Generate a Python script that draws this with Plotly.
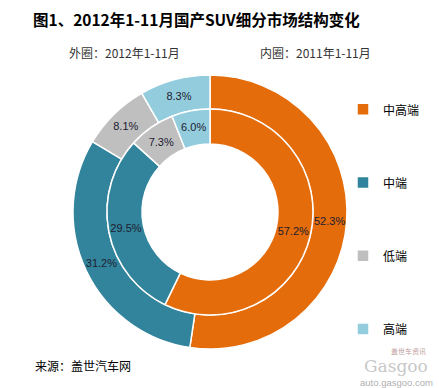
import plotly.graph_objects as go

categories = ["中高端", "中端", "低端", "高端"]
outer_2012 = [52.3, 31.2, 8.1, 8.3]
inner_2011 = [57.2, 29.5, 7.3, 6.0]
colors = ["#E46C0A", "#31849B", "#BFBFBF", "#93CDDD"]

title_text = "图1、2012年1-11月国产SUV细分市场结构变化"
outer_note = "外圈：2012年1-11月"
inner_note = "内圈：2011年1-11月"
source_note = "来源：盖世汽车网"

W, H = 439, 388
cx, cy = 210, 212
R_out, R_mid, R_in = 137, 103, 68

def dom(r):
    return dict(x=[(cx - r) / W, (cx + r) / W],
                y=[(H - cy - r) / H, (H - cy + r) / H])

# legend labels padded with blank lines to spread entries vertically (last one unpadded)
legend_labels = []
for i, c in enumerate(categories):
    s = '<span style="font-size:12px">%s</span>' % c
    if i < len(categories) - 1:
        s += "<br> <br> <br> "
    legend_labels.append(s)

label_font = dict(family="Liberation Sans, Arial", size=11, color="#202030")

fig = go.Figure()
fig.add_trace(go.Pie(
    labels=legend_labels, values=outer_2012, sort=False, direction="clockwise",
    rotation=0, hole=R_mid / R_out, domain=dom(R_out),
    marker=dict(colors=colors, line=dict(color="white", width=1.5)),
    texttemplate="%{value:.1f}%", textposition="inside",
    insidetextorientation="horizontal", textfont=label_font,
    hoverinfo="skip", showlegend=True,
))
fig.add_trace(go.Pie(
    labels=legend_labels, values=inner_2011, sort=False, direction="clockwise",
    rotation=0, hole=R_in / R_mid, domain=dom(R_mid),
    marker=dict(colors=colors, line=dict(color="white", width=1.5)),
    texttemplate="%{value:.1f}%", textposition="inside",
    insidetextorientation="horizontal", textfont=label_font,
    hoverinfo="skip", showlegend=False,
))

fig.update_layout(
    width=W, height=H, autosize=False,
    margin=dict(l=0, r=0, t=0, b=0),
    paper_bgcolor="white", plot_bgcolor="white",
    uniformtext=dict(minsize=11, mode="show"),
    title=dict(text="<b>" + title_text + "</b>", x=33 / W, xanchor="left",
               xref="container", y=1 - 21 / H, yref="container", yanchor="middle",
               pad=dict(l=0, r=0, t=0, b=0),
               font=dict(family="Noto Sans CJK SC", size=15.5, color="#000000")),
    legend=dict(x=343 / W, xanchor="left", y=1 - 94 / H, yanchor="top",
                valign="top", font=dict(family="Noto Sans CJK SC", size=13.5, color="#000000"),
                bgcolor="rgba(0,0,0,0)", tracegroupgap=0),
    annotations=[
        dict(text=outer_note, x=67 / W, y=1 - 53 / H, xref="paper", yref="paper",
             xanchor="left", yanchor="middle", showarrow=False,
             font=dict(family="Noto Sans CJK SC", size=12, color="#333333")),
        dict(text=inner_note, x=258 / W, y=1 - 53 / H, xref="paper", yref="paper",
             xanchor="left", yanchor="middle", showarrow=False,
             font=dict(family="Noto Sans CJK SC", size=12, color="#333333")),
        dict(text=source_note, x=33 / W, y=1 - 365 / H, xref="paper", yref="paper",
             xanchor="left", yanchor="middle", showarrow=False,
             font=dict(family="Noto Sans CJK SC", size=12, color="#000000")),
        dict(text="盖世车资讯", x=428 / W, y=1 - 351 / H, xref="paper", yref="paper",
             xanchor="right", yanchor="middle", showarrow=False,
             font=dict(family="Noto Sans CJK SC", size=7, color="#c0a0a0")),
        dict(text="Gasgoo", x=430 / W, y=1 - 366 / H, xref="paper", yref="paper",
             xanchor="right", yanchor="middle", showarrow=False,
             font=dict(family="DejaVu Serif", size=17, color="#c8c8c8")),
        dict(text="auto.gasgoo.com", x=435 / W, y=1 - 382 / H, xref="paper", yref="paper",
             xanchor="right", yanchor="middle", showarrow=False,
             font=dict(family="Liberation Sans, Arial", size=9.5, color="#b0b0b0")),
    ],
)

fig.write_html("out.html", config={"displayModeBar": False},
               post_script="document.body.style.margin='0';document.body.style.padding='0';")
